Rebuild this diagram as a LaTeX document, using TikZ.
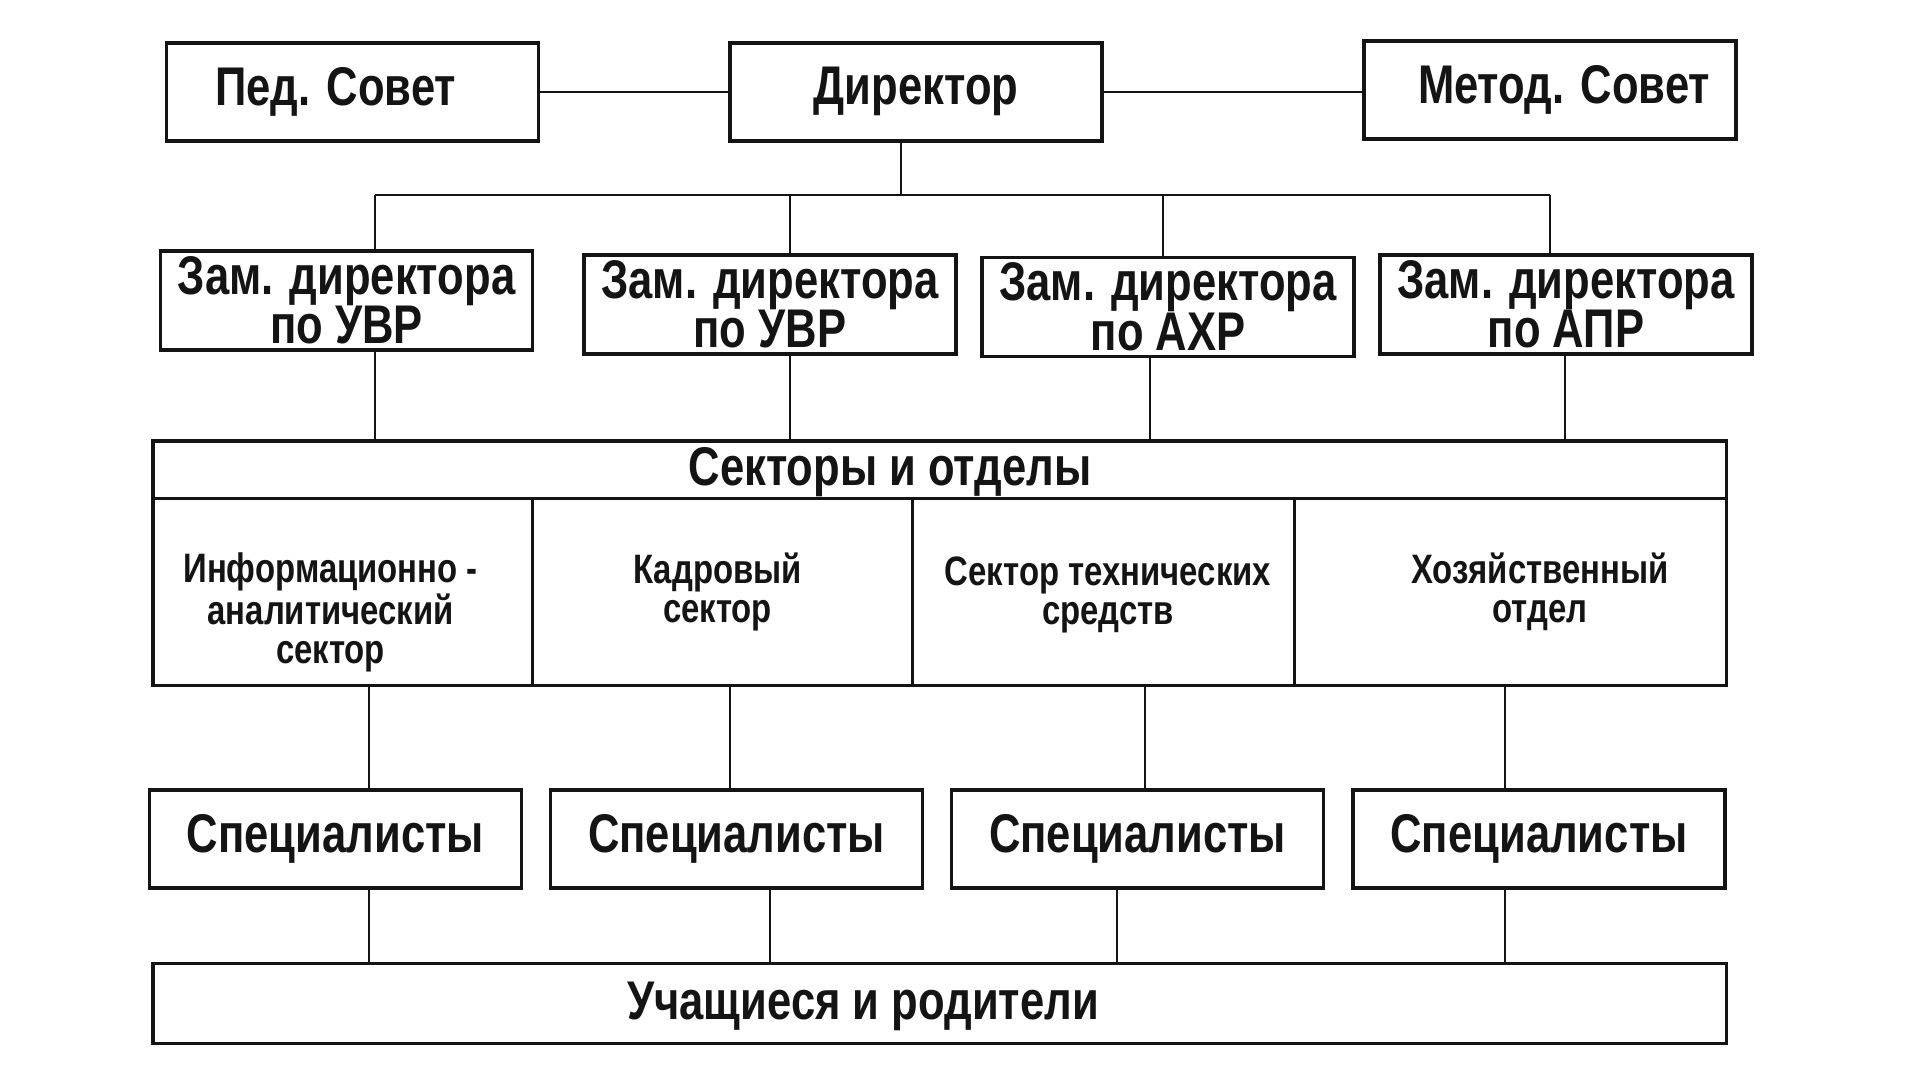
\documentclass[tikz,border=0pt]{standalone}
\usepackage{fontspec}
\setmainfont{Liberation Sans}[FakeStretch=0.8]
\usetikzlibrary{positioning}
\definecolor{orgink}{RGB}{20,20,20}

\begin{document}
\begin{tikzpicture}[
  box/.style={draw=orgink, line width=1pt, fill=white, minimum width=3.72cm, minimum height=0.98cm, inner sep=0pt},
  wide/.style={draw=orgink, line width=1pt, fill=white, minimum width=15.735cm, inner sep=0pt},
  cell/.style={draw=orgink, line width=1pt, fill=white, minimum height=1.873cm, inner sep=0pt},
  link/.style={draw=orgink, line width=0.6pt},
  big/.style={text=orgink, align=center, font=\bfseries\fontsize{15.5}{14}\selectfont},
  small/.style={text=orgink, align=center, font=\bfseries\fontsize{11.7}{11.1}\selectfont}
]
\fill[white] (0,0) rectangle (19.2,-10.8);
\useasboundingbox (0,0) rectangle (19.2,-10.8);

% top row
\node[box, big] (ped) at (3.527,-0.918) {\hspace*{-0.34cm}Пед. Совет};
\node[box, big] (dir) at (9.16,-0.918) {Директор};
\node[box, big] (met) at (15.50,-0.90) {Метод. Совет\hspace*{-0.28cm}};

\draw[link] (ped.east) -- (ped.east -| dir.west);
\draw[link] (dir.east) -- (dir.east -| met.west);

% deputies
\node[box, big, minimum height=0.99cm] (z1) at (3.465,-3.006) {Зам. директора\\по УВР};
\node[box, big, minimum height=0.99cm] (z2) at (7.70,-3.043) {Зам. директора\\по УВР};
\node[box, big, minimum height=0.99cm] (z3) at (11.68,-3.068) {Зам. директора\\по АХР};
\node[box, big, minimum height=0.99cm] (z4) at (15.66,-3.043) {Зам. директора\\по АПР};

\coordinate (busL) at (3.747,-1.947);
\coordinate (busD) at (9.01,-1.947);
\coordinate (busR) at (15.502,-1.947);
\draw[link] (busL) -- (busR);
\draw[link] (dir.south -| busD) -- (busD);
\draw[link] (busL) -- (busL |- z1.north);
\draw[link] (7.898,-1.947) -- (z2.north -| 7.898,0);
\draw[link] (11.63,-1.947) -- (z3.north -| 11.63,0);
\draw[link] (busR) -- (busR |- z4.north);

% sectors and departments
\node[wide, minimum height=0.576cm] (sec) at (9.3975,-4.696) {};
\node[big] (secl) at (8.90,-4.72) {Секторы и отделы};
\node[cell, minimum width=3.797cm] (c1) at (3.4285,-5.9205) {};
\node[cell, minimum width=3.796cm] (c2) at (7.225,-5.9205) {};
\node[cell, minimum width=3.82cm] (c3) at (11.033,-5.9205) {};
\node[cell, minimum width=4.322cm] (c4) at (15.104,-5.9205) {};
\node[small, anchor=north] (c1l) at (3.306,-5.40) {Информационно -\\аналитический\\сектор};
\node[small, anchor=north] (c2l) at (7.176,-5.40) {Кадровый\\сектор};
\node[small, anchor=north] (c3l) at (11.08,-5.44) {Сектор технических\\средств};
\node[small, anchor=north] (c4l) at (15.40,-5.40) {Хозяйственный\\отдел};

\foreach \n/\x in {1/3.747,2/7.898,3/11.498,4/15.649}
  \draw[link] (z\n.south -| \x,0) -- (sec.north -| \x,0);

% specialists
\node[box, big] (s1) at (3.355,-8.388) {Специалисты};
\node[box, big] (s2) at (7.366,-8.388) {Специалисты};
\node[box, big] (s3) at (11.376,-8.388) {Специалисты};
\node[box, big] (s4) at (15.39,-8.388) {Специалисты};

\foreach \n/\x in {1/3.686,2/7.298,3/11.449,4/15.049}
  \draw[link] (c\n.south -| \x,0) -- (s\n.north -| \x,0);

% pupils and parents
\node[wide, minimum height=0.796cm] (uch) at (9.3975,-10.035) {};
\node[big] (uchl) at (8.63,-10.06) {Учащиеся и родители};

\foreach \n/\x in {1/3.686,2/7.702,3/11.167,4/15.049}
  \draw[link] (s\n.south -| \x,0) -- (uch.north -| \x,0);
\end{tikzpicture}
\end{document}
